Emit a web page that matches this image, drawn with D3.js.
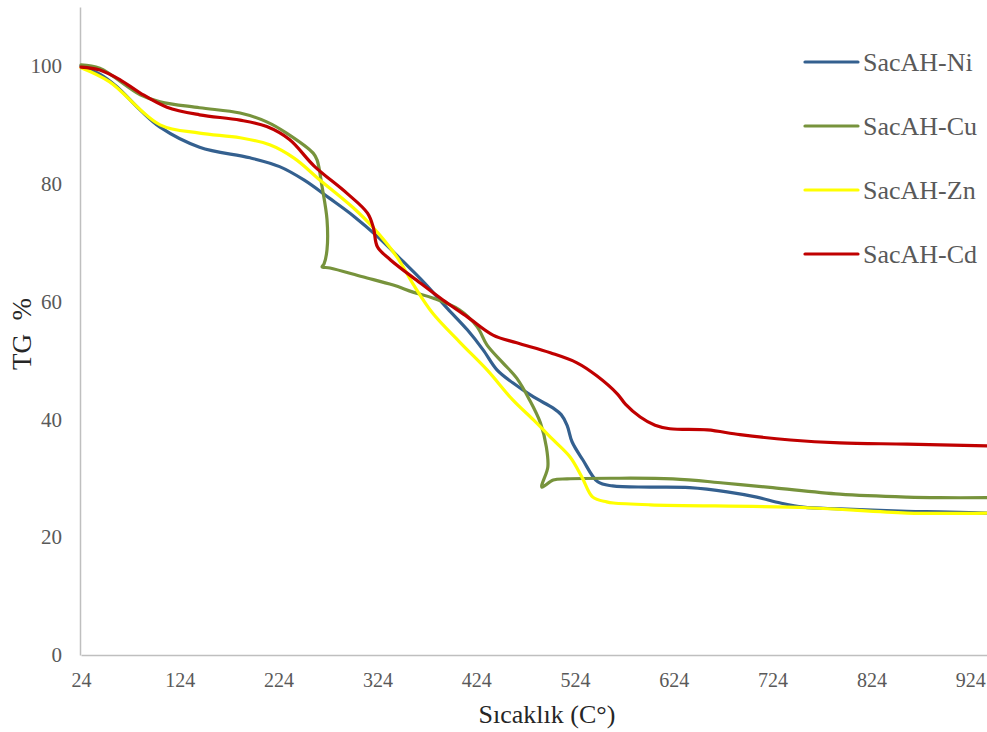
<!DOCTYPE html>
<html><head><meta charset="utf-8">
<script src="https://cdn.jsdelivr.net/npm/d3@7"></script>
<style>body{margin:0;background:#fff}svg{display:block}text{font-family:"Liberation Serif","Times New Roman",serif}</style>
</head><body>
<svg id="c" width="987" height="732"></svg>
<script>
const seriesNames = ["SacAH-Ni","SacAH-Cu","SacAH-Zn","SacAH-Cd"];
const seriesColors = ["#34608f","#77933c","#ffff00","#c00000"];
const xTicks = [24,124,224,324,424,524,624,724,824,924];
const yTicks = [0,20,40,60,80,100];

const niT  = [24,43,60,84,104,144,195,225,250,275,300,325,350,372,395,415,431,445,461,482,502,510,516,521,532,547,562,600,640,678,708,732,755,792,860,893,941];
const niTG = [100,98.6,96.5,92.5,89.6,86.2,84.4,82.9,80.6,77.6,74.5,70.9,66.8,63.1,58.8,55.2,51.8,48.4,46.2,43.8,41.9,40.8,39,36.2,33.1,29.4,28.7,28.5,28.4,27.7,26.8,25.8,25.1,24.8,24.4,24.3,24.1];

const cuT  = [24,43,84,104,144,185,212,232,259,263,268,273,273,270,268,276,309,340,360,380,407,425,435,451,465,478,489,495,496.5,490.5,502,516,560,623,674,724,792,860,893,941];
const cuTG = [100.2,99.6,95.1,93.9,92.9,92,90.5,88.6,85.2,84,79.5,73.9,68.8,66.4,65.9,65.7,64.2,62.8,61.6,60.6,58.6,55.7,52.6,49.6,47,43.3,39.4,35.3,31.9,28.5,29.7,29.9,30,29.9,29.2,28.4,27.3,26.8,26.7,26.7];

const znT  = [24,53,104,144,185,215,240,266,299,320,344,360,380,408,435,461,482,502,519,531,542,556,563,600,759,860,941];
const znTG = [99.7,97.3,90,88.6,87.8,86.6,84.3,80.6,76,72.5,67.5,63,58,53,48.4,43.3,39.9,36.5,33.6,30.2,26.8,26,25.8,25.5,25,24.1,24.1];

const cdT  = [24,43,64,84,111,144,185,212,235,260,293,314,320,324,337,367,390,415,441,465,499,526,546,567,575,590,605,620,658,691,742,792,860,941];
const cdTG = [99.8,99.3,97.6,95.4,93,91.7,90.8,89.7,87.5,83,78.4,75,72.5,69.3,67.1,63.2,60.3,57.4,54.3,53,51.3,49.6,47.4,44.3,42.6,40.4,39,38.4,38.2,37.4,36.5,36,35.8,35.5];

const series = [[niT,niTG],[cuT,cuTG],[znT,znTG],[cdT,cdTG]].map((s,i)=>({
  name: seriesNames[i], color: seriesColors[i],
  pts: s[0].map((t,j)=>[t,s[1][j]])
}));

const svg = d3.select("#c");
const x = d3.scaleLinear().domain([24,942]).range([81,988]);
const y = d3.scaleLinear().domain([0,110]).range([655,7]);

const xAxis = svg.append("g").attr("transform","translate(0,655)")
  .call(d3.axisBottom(x).tickValues(xTicks).tickSize(0).tickPadding(18));
xAxis.select(".domain").attr("stroke","#bfbfbf").attr("stroke-width",1.5);
xAxis.selectAll("text").attr("font-family",null).attr("font-size",20).attr("fill","#595959");

const yAxis = svg.append("g").attr("transform","translate(80,0)")
  .call(d3.axisLeft(y).tickValues(yTicks).tickSize(0).tickPadding(18));
yAxis.select(".domain").attr("stroke","#bfbfbf").attr("stroke-width",1.5);
yAxis.selectAll("text").attr("font-family",null).attr("font-size",21).attr("fill","#595959");

const line = d3.line().x(d=>x(d[0])).y(d=>y(d[1])).curve(d3.curveCatmullRom.alpha(0.5));
svg.append("g").selectAll("path").data(series).join("path")
  .attr("d",d=>line(d.pts)).attr("fill","none").attr("stroke",d=>d.color)
  .attr("stroke-width",3.2).attr("stroke-linejoin","round").attr("stroke-linecap","round");

const lg = svg.append("g");
const ly = d3.scalePoint().domain(seriesNames).range([62,254]);
series.forEach(s=>{
  lg.append("line").attr("x1",805).attr("x2",858).attr("y1",ly(s.name)).attr("y2",ly(s.name))
    .attr("stroke",s.color).attr("stroke-width",3.2).attr("stroke-linecap","round");
  lg.append("text").attr("x",863).attr("y",ly(s.name)).attr("dy","0.33em")
    .attr("font-size",26).attr("fill","#595959").text(s.name);
});

svg.append("text").attr("x",547).attr("y",723).attr("text-anchor","middle")
  .attr("font-size",26).attr("fill","#262626").text("Sıcaklık (C°)");
svg.append("text").attr("transform","translate(31,334) rotate(-90)").attr("text-anchor","middle")
  .attr("font-size",27).attr("fill","#262626").attr("xml:space","preserve").text("TG  %");
</script>
</body></html>
